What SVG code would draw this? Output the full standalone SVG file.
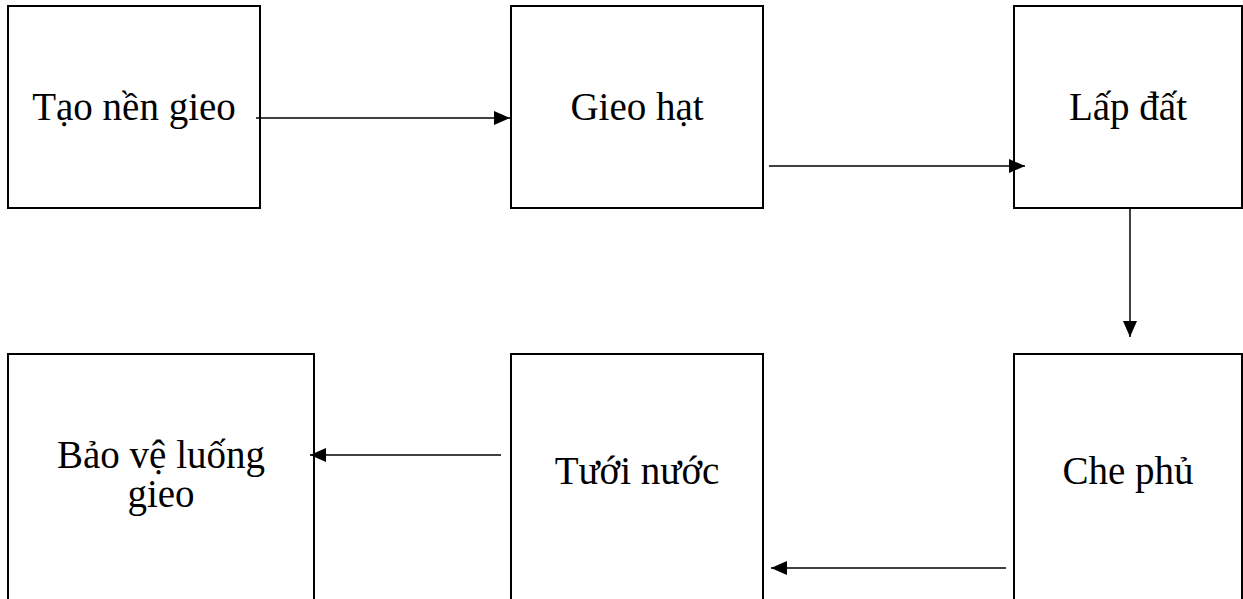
<svg xmlns="http://www.w3.org/2000/svg" width="1243" height="599" viewBox="0 0 1243 599">
  <style>
    .box { fill: #ffffff; stroke: #000000; stroke-width: 2; }
    .lbl { font-family: "Liberation Serif", "Times New Roman", serif; font-size: 39px; fill: #000000; text-anchor: middle; }
    .conn { stroke: #000000; stroke-width: 1.5; fill: none; }
  </style>
  <defs>
    <marker id="arrow" viewBox="0 0 16 14" refX="16" refY="7" markerWidth="16" markerHeight="14" markerUnits="userSpaceOnUse" orient="auto">
      <path d="M0,0 L16,7 L0,14 Z" fill="#000000"/>
    </marker>
  </defs>
  <rect width="1243" height="599" fill="#ffffff"/>

  <g id="node-tao-nen-gieo">
    <rect class="box" x="8" y="6" width="252" height="202"/>
    <text class="lbl" x="134" y="120">Tạo nền gieo</text>
  </g>
  <g id="node-gieo-hat">
    <rect class="box" x="511" y="6" width="252" height="202"/>
    <text class="lbl" x="637" y="120">Gieo hạt</text>
  </g>
  <g id="node-lap-dat">
    <rect class="box" x="1014" y="6" width="228" height="202"/>
    <text class="lbl" x="1128" y="120">Lấp đất</text>
  </g>
  <g id="node-bao-ve-luong-gieo">
    <rect class="box" x="8" y="354" width="306" height="260"/>
    <text class="lbl" x="161" y="468">Bảo vệ luống</text>
    <text class="lbl" x="161" y="507">gieo</text>
  </g>
  <g id="node-tuoi-nuoc">
    <rect class="box" x="511" y="354" width="252" height="260"/>
    <text class="lbl" x="637" y="484">Tưới nước</text>
  </g>
  <g id="node-che-phu">
    <rect class="box" x="1014" y="354" width="228" height="260"/>
    <text class="lbl" x="1128" y="484">Che phủ</text>
  </g>

  <g id="connectors">
    <line class="conn" x1="256" y1="118" x2="510" y2="118" marker-end="url(#arrow)"/>
    <line class="conn" x1="769" y1="166" x2="1025" y2="166" marker-end="url(#arrow)"/>
    <line class="conn" x1="1130" y1="208" x2="1130" y2="337" marker-end="url(#arrow)"/>
    <line class="conn" x1="1006" y1="568" x2="771" y2="568" marker-end="url(#arrow)"/>
    <line class="conn" x1="501" y1="455" x2="310" y2="455" marker-end="url(#arrow)"/>
  </g>
</svg>
